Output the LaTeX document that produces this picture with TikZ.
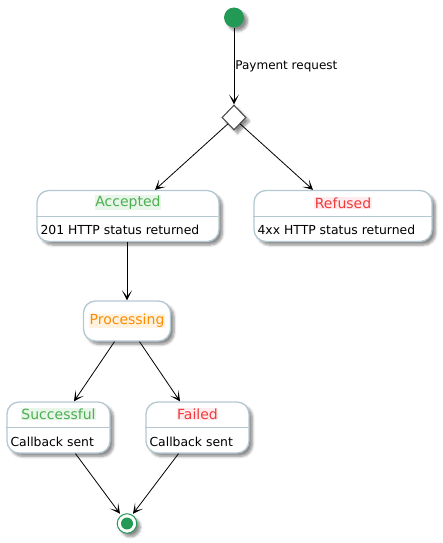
\documentclass[tikz,border=0pt]{standalone}
\usepackage{fontspec}
\setmainfont{DejaVu Sans}
\usetikzlibrary{arrows.meta,shapes.geometric,shadows.blur}
\definecolor{startgreen}{HTML}{229954}
\definecolor{boxline}{HTML}{B4C8D2}
\definecolor{okgreen}{HTML}{4CAF50}
\definecolor{okbg}{HTML}{E8F5E9}
\definecolor{badred}{HTML}{F03A3A}
\definecolor{badbg}{HTML}{FFEBEE}
\definecolor{busyorange}{HTML}{FB8C00}
\definecolor{busybg}{HTML}{FFF3E0}
\tikzset{
  shade box/.style={blur shadow={shadow xshift=3.5pt, shadow yshift=-3.5pt, shadow blur radius=2.5pt, shadow blur steps=6, shadow opacity=45}},
  statebox/.style={draw=boxline, line width=1.3pt, fill=white, rounded corners=12pt, shade box, inner sep=0pt},
  sepline/.style={draw=boxline, line width=1.1pt},
  titletext/.style={font=\fontsize{14}{16}\selectfont, inner sep=0.6pt},
  bodytext/.style={font=\fontsize{12.4}{14}\selectfont, inner sep=0pt, anchor=west},
  flow/.style={draw=black, line width=0.8pt, -{Stealth[length=10pt, width=10pt, inset=6pt]}}
}
\newcommand{\stateat}[9]{%
  % #1 name, #2 x, #3 y, #4 width, #5 height, #6 title, #7 colour, #8 background, #9 body
  \node[statebox, minimum width=#4pt, minimum height=#5pt] (#1) at (#2,#3) {};
  \draw[sepline] ([yshift=-26.5pt]#1.north west) -- ([yshift=-26.5pt]#1.north east);
  \node[titletext, text=#7, fill=#8] (#1T) at ([yshift=-13pt]#1.north) {#6};
  \node[bodytext] (#1B) at ([xshift=4pt, yshift=12pt]#1.south west) {#9};
}
\begin{document}
\begin{tikzpicture}[x=1pt, y=-1pt]
\useasboundingbox (0,0) rectangle (442,543);

% start and choice
\node[circle, fill=startgreen, minimum size=20pt, inner sep=0pt, shade box] (start) at (234,17.5) {};
\node[diamond, draw=black!70, line width=1.1pt, fill=white, minimum width=24pt, minimum height=25pt, inner sep=0pt, shade box] (choice) at (234,117.5) {};
\draw[flow] (start) -- (choice) node[pos=0.5, anchor=west, inner sep=1pt, font=\fontsize{12}{14}\selectfont] (payLbl) {Payment request};

% states
\stateat{accepted}{128}{216}{182}{51}{Accepted}{okgreen}{okbg}{201 HTTP status returned}
\stateat{refused}{343}{216}{178}{51}{Refused}{badred}{badbg}{4xx HTTP status returned}
\node[statebox, minimum width=87pt, minimum height=40pt] (processing) at (127,321) {};
\node[titletext, text=busyorange, fill=busybg] (processingT) at (processing) {Processing};
\stateat{successful}{58.5}{427.5}{103}{51}{Successful}{okgreen}{okbg}{Callback sent}
\stateat{failed}{197.5}{427.5}{103}{51}{Failed}{badred}{badbg}{Callback sent}

% end
\node[circle, draw=startgreen, line width=1pt, fill=white, minimum size=19.5pt, inner sep=0pt, shade box] (finish) at (127,523.5) {};
\node[circle, fill=startgreen, minimum size=12pt, inner sep=0pt] (finishIn) at (finish) {};

% transitions
\draw[flow] (choice.south west) -- ([xshift=27pt]accepted.north);
\draw[flow] (choice.south east) -- ([xshift=-30pt]refused.north);
\draw[flow] ([xshift=-1pt]accepted.south) -- (processing.north);
\draw[flow] ([xshift=-12.5pt]processing.south) -- ([xshift=15.5pt]successful.north);
\draw[flow] ([xshift=12.5pt]processing.south) -- ([xshift=-17.5pt]failed.north);
\draw[flow] ([xshift=17pt]successful.south) -- ([xshift=-7pt, yshift=-0.5pt]finish.north);
\draw[flow] ([xshift=-19pt]failed.south) -- ([xshift=6pt, yshift=-0.5pt]finish.north);
\end{tikzpicture}
\end{document}
